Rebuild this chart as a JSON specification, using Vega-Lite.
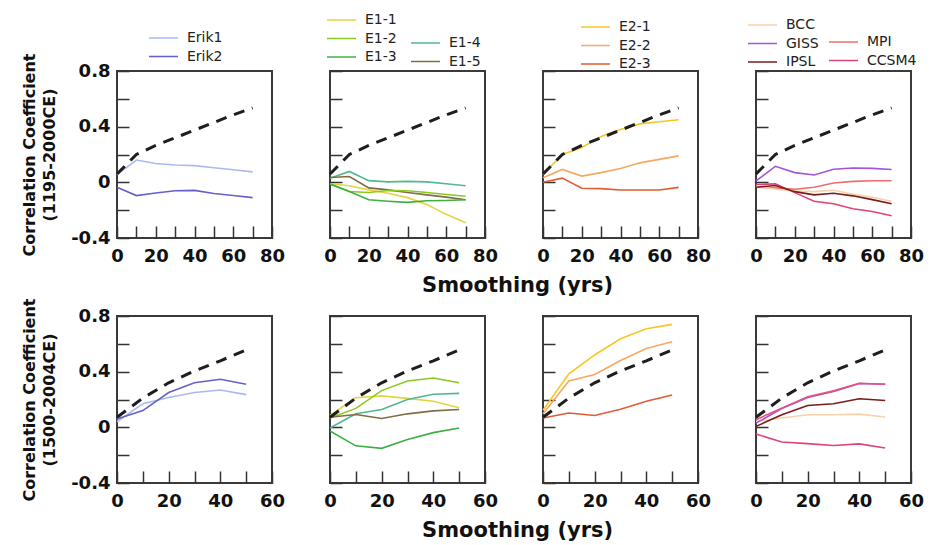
{
  "$schema": "https://vega.github.io/schema/vega-lite/v6.json",
  "background": "white",
  "padding": {"left": 20, "top": 12, "right": 5, "bottom": 3},
  "config": {
    "view": {"stroke": "#3a3a3a", "strokeWidth": 2},
    "axis": {"grid": false, "domain": false, "labelFlush": false, "tickSize": -12, "tickColor": "#333", "tickWidth": 1.5, "labelFont": "DejaVu Sans", "labelFontWeight": "bold", "labelFontSize": 18, "labelColor": "#111", "titleFont": "DejaVu Sans", "titleFontWeight": "bold", "titleFontSize": 16, "titleColor": "#111"},
    "axisX": {"labelPadding": 21},
    "axisY": {"labelPadding": 19, "titleLineHeight": 20, "titlePadding": 13},
    "legend": {"orient": "none", "symbolType": "stroke", "symbolSize": 841, "symbolStrokeWidth": 2, "clipHeight": 13, "labelFont": "DejaVu Sans", "labelFontSize": 14, "labelColor": "#222", "rowPadding": 3.5, "labelOffset": 8},
    "line": {"strokeWidth": 1.6},
    "title": {"font": "DejaVu Sans", "fontSize": 21, "fontWeight": "bold", "color": "#111"}
  },
  "datasets": {
    "dt": [{"x":0,"y":0.06},{"x":10,"y":0.2},{"x":20,"y":0.265},{"x":30,"y":0.32},{"x":40,"y":0.375},{"x":50,"y":0.43},{"x":60,"y":0.485},{"x":70,"y":0.535}],
    "db": [{"x":0,"y":0.072},{"x":10,"y":0.21},{"x":20,"y":0.32},{"x":30,"y":0.405},{"x":40,"y":0.478},{"x":50,"y":0.556}],
    "t1": [
      {"s":"Erik1","x":0,"y":0.055},{"s":"Erik1","x":10,"y":0.16},{"s":"Erik1","x":20,"y":0.135},{"s":"Erik1","x":30,"y":0.125},{"s":"Erik1","x":40,"y":0.12},{"s":"Erik1","x":50,"y":0.105},{"s":"Erik1","x":60,"y":0.09},{"s":"Erik1","x":70,"y":0.075},
      {"s":"Erik2","x":0,"y":-0.035},{"s":"Erik2","x":10,"y":-0.095},{"s":"Erik2","x":20,"y":-0.077},{"s":"Erik2","x":30,"y":-0.06},{"s":"Erik2","x":40,"y":-0.058},{"s":"Erik2","x":50,"y":-0.08},{"s":"Erik2","x":60,"y":-0.095},{"s":"Erik2","x":70,"y":-0.11}
    ],
    "t2": [
      {"s":"E1-1","x":0,"y":-0.01},{"s":"E1-1","x":10,"y":-0.024},{"s":"E1-1","x":20,"y":-0.054},{"s":"E1-1","x":30,"y":-0.078},{"s":"E1-1","x":40,"y":-0.11},{"s":"E1-1","x":50,"y":-0.16},{"s":"E1-1","x":60,"y":-0.23},{"s":"E1-1","x":70,"y":-0.29},
      {"s":"E1-2","x":0,"y":-0.012},{"s":"E1-2","x":10,"y":-0.066},{"s":"E1-2","x":20,"y":-0.073},{"s":"E1-2","x":30,"y":-0.059},{"s":"E1-2","x":40,"y":-0.061},{"s":"E1-2","x":50,"y":-0.073},{"s":"E1-2","x":60,"y":-0.087},{"s":"E1-2","x":70,"y":-0.1},
      {"s":"E1-3","x":0,"y":-0.012},{"s":"E1-3","x":10,"y":-0.066},{"s":"E1-3","x":20,"y":-0.125},{"s":"E1-3","x":30,"y":-0.136},{"s":"E1-3","x":40,"y":-0.144},{"s":"E1-3","x":50,"y":-0.132},{"s":"E1-3","x":60,"y":-0.13},{"s":"E1-3","x":70,"y":-0.125},
      {"s":"E1-4","x":0,"y":0.03},{"s":"E1-4","x":10,"y":0.078},{"s":"E1-4","x":20,"y":0.012},{"s":"E1-4","x":30,"y":0.003},{"s":"E1-4","x":40,"y":0.007},{"s":"E1-4","x":50,"y":0.003},{"s":"E1-4","x":60,"y":-0.01},{"s":"E1-4","x":70,"y":-0.024},
      {"s":"E1-5","x":0,"y":0.035},{"s":"E1-5","x":10,"y":0.042},{"s":"E1-5","x":20,"y":-0.04},{"s":"E1-5","x":30,"y":-0.054},{"s":"E1-5","x":40,"y":-0.073},{"s":"E1-5","x":50,"y":-0.09},{"s":"E1-5","x":60,"y":-0.106},{"s":"E1-5","x":70,"y":-0.125}
    ],
    "t3": [
      {"s":"E2-1","x":0,"y":0.057},{"s":"E2-1","x":10,"y":0.2},{"s":"E2-1","x":20,"y":0.25},{"s":"E2-1","x":30,"y":0.33},{"s":"E2-1","x":40,"y":0.38},{"s":"E2-1","x":50,"y":0.42},{"s":"E2-1","x":60,"y":0.435},{"s":"E2-1","x":70,"y":0.45},
      {"s":"E2-2","x":0,"y":0.033},{"s":"E2-2","x":10,"y":0.093},{"s":"E2-2","x":20,"y":0.045},{"s":"E2-2","x":30,"y":0.07},{"s":"E2-2","x":40,"y":0.1},{"s":"E2-2","x":50,"y":0.14},{"s":"E2-2","x":60,"y":0.165},{"s":"E2-2","x":70,"y":0.19},
      {"s":"E2-3","x":0,"y":0.0},{"s":"E2-3","x":10,"y":0.03},{"s":"E2-3","x":20,"y":-0.043},{"s":"E2-3","x":30,"y":-0.045},{"s":"E2-3","x":40,"y":-0.055},{"s":"E2-3","x":50,"y":-0.055},{"s":"E2-3","x":60,"y":-0.055},{"s":"E2-3","x":70,"y":-0.036}
    ],
    "t4": [
      {"s":"BCC","x":0,"y":-0.028},{"s":"BCC","x":10,"y":-0.05},{"s":"BCC","x":20,"y":-0.062},{"s":"BCC","x":30,"y":-0.067},{"s":"BCC","x":40,"y":-0.057},{"s":"BCC","x":50,"y":-0.085},{"s":"BCC","x":60,"y":-0.108},{"s":"BCC","x":70,"y":-0.136},
      {"s":"GISS","x":0,"y":0.01},{"s":"GISS","x":10,"y":0.115},{"s":"GISS","x":20,"y":0.07},{"s":"GISS","x":30,"y":0.053},{"s":"GISS","x":40,"y":0.094},{"s":"GISS","x":50,"y":0.103},{"s":"GISS","x":60,"y":0.1},{"s":"GISS","x":70,"y":0.092},
      {"s":"IPSL","x":0,"y":-0.035},{"s":"IPSL","x":10,"y":-0.023},{"s":"IPSL","x":20,"y":-0.067},{"s":"IPSL","x":30,"y":-0.09},{"s":"IPSL","x":40,"y":-0.078},{"s":"IPSL","x":50,"y":-0.097},{"s":"IPSL","x":60,"y":-0.124},{"s":"IPSL","x":70,"y":-0.154},
      {"s":"MPI","x":0,"y":-0.035},{"s":"MPI","x":10,"y":-0.04},{"s":"MPI","x":20,"y":-0.05},{"s":"MPI","x":30,"y":-0.035},{"s":"MPI","x":40,"y":-0.005},{"s":"MPI","x":50,"y":0.007},{"s":"MPI","x":60,"y":0.011},{"s":"MPI","x":70,"y":0.011},
      {"s":"CCSM4","x":0,"y":-0.016},{"s":"CCSM4","x":10,"y":-0.011},{"s":"CCSM4","x":20,"y":-0.074},{"s":"CCSM4","x":30,"y":-0.136},{"s":"CCSM4","x":40,"y":-0.154},{"s":"CCSM4","x":50,"y":-0.19},{"s":"CCSM4","x":60,"y":-0.21},{"s":"CCSM4","x":70,"y":-0.24}
    ],
    "b1": [
      {"s":"Erik1","x":0,"y":0.04},{"s":"Erik1","x":10,"y":0.17},{"s":"Erik1","x":20,"y":0.215},{"s":"Erik1","x":30,"y":0.25},{"s":"Erik1","x":40,"y":0.268},{"s":"Erik1","x":50,"y":0.235},
      {"s":"Erik2","x":0,"y":0.06},{"s":"Erik2","x":10,"y":0.12},{"s":"Erik2","x":20,"y":0.25},{"s":"Erik2","x":30,"y":0.32},{"s":"Erik2","x":40,"y":0.345},{"s":"Erik2","x":50,"y":0.31}
    ],
    "b2": [
      {"s":"E1-1","x":0,"y":0.085},{"s":"E1-1","x":10,"y":0.213},{"s":"E1-1","x":20,"y":0.226},{"s":"E1-1","x":30,"y":0.208},{"s":"E1-1","x":40,"y":0.187},{"s":"E1-1","x":50,"y":0.141},
      {"s":"E1-2","x":0,"y":0.067},{"s":"E1-2","x":10,"y":0.136},{"s":"E1-2","x":20,"y":0.264},{"s":"E1-2","x":30,"y":0.333},{"s":"E1-2","x":40,"y":0.354},{"s":"E1-2","x":50,"y":0.32},
      {"s":"E1-3","x":0,"y":-0.026},{"s":"E1-3","x":10,"y":-0.133},{"s":"E1-3","x":20,"y":-0.151},{"s":"E1-3","x":30,"y":-0.087},{"s":"E1-3","x":40,"y":-0.038},{"s":"E1-3","x":50,"y":-0.005},
      {"s":"E1-4","x":0,"y":-0.005},{"s":"E1-4","x":10,"y":0.097},{"s":"E1-4","x":20,"y":0.128},{"s":"E1-4","x":30,"y":0.2},{"s":"E1-4","x":40,"y":0.238},{"s":"E1-4","x":50,"y":0.244},
      {"s":"E1-5","x":0,"y":0.072},{"s":"E1-5","x":10,"y":0.092},{"s":"E1-5","x":20,"y":0.064},{"s":"E1-5","x":30,"y":0.097},{"s":"E1-5","x":40,"y":0.118},{"s":"E1-5","x":50,"y":0.128}
    ],
    "b3": [
      {"s":"E2-1","x":0,"y":0.123},{"s":"E2-1","x":10,"y":0.385},{"s":"E2-1","x":20,"y":0.52},{"s":"E2-1","x":30,"y":0.636},{"s":"E2-1","x":40,"y":0.708},{"s":"E2-1","x":50,"y":0.74},
      {"s":"E2-2","x":0,"y":0.097},{"s":"E2-2","x":10,"y":0.333},{"s":"E2-2","x":20,"y":0.38},{"s":"E2-2","x":30,"y":0.48},{"s":"E2-2","x":40,"y":0.567},{"s":"E2-2","x":50,"y":0.615},
      {"s":"E2-3","x":0,"y":0.067},{"s":"E2-3","x":10,"y":0.103},{"s":"E2-3","x":20,"y":0.085},{"s":"E2-3","x":30,"y":0.13},{"s":"E2-3","x":40,"y":0.187},{"s":"E2-3","x":50,"y":0.233}
    ],
    "b4": [
      {"s":"BCC","x":0,"y":0.043},{"s":"BCC","x":10,"y":0.067},{"s":"BCC","x":20,"y":0.09},{"s":"BCC","x":30,"y":0.09},{"s":"BCC","x":40,"y":0.095},{"s":"BCC","x":50,"y":0.074},
      {"s":"GISS","x":0,"y":0.03},{"s":"GISS","x":10,"y":0.135},{"s":"GISS","x":20,"y":0.215},{"s":"GISS","x":30,"y":0.258},{"s":"GISS","x":40,"y":0.315},{"s":"GISS","x":50,"y":0.31},
      {"s":"IPSL","x":0,"y":0.007},{"s":"IPSL","x":10,"y":0.09},{"s":"IPSL","x":20,"y":0.157},{"s":"IPSL","x":30,"y":0.169},{"s":"IPSL","x":40,"y":0.205},{"s":"IPSL","x":50,"y":0.193},
      {"s":"MPI","x":0,"y":0.055},{"s":"MPI","x":10,"y":0.138},{"s":"MPI","x":20,"y":0.22},{"s":"MPI","x":30,"y":0.262},{"s":"MPI","x":40,"y":0.317},{"s":"MPI","x":50,"y":0.31},
      {"s":"CCSM4","x":0,"y":-0.048},{"s":"CCSM4","x":10,"y":-0.105},{"s":"CCSM4","x":20,"y":-0.117},{"s":"CCSM4","x":30,"y":-0.131},{"s":"CCSM4","x":40,"y":-0.119},{"s":"CCSM4","x":50,"y":-0.148}
    ]
  },
  "bounds": "full",
  "spacing": 0,
  "resolve": {"scale": {"color": "independent"}, "legend": {"color": "independent"}},
  "vconcat": [
    {
      "bounds": "flush",
      "spacing": 58,
      "resolve": {"scale": {"color": "independent"}, "legend": {"color": "independent"}},
      "title": {"text": "Smoothing (yrs)", "orient": "bottom", "anchor": "middle", "offset": 9, "dx": 45},
      "hconcat": [
        {
          "width": 155, "height": 167,
          "encoding": {
            "x": {"field": "x", "type": "quantitative", "scale": {"domain": [0, 80], "nice": false}, "axis": {"values": [0,10,20,30,40,50,60,70,80], "labelExpr": "datum.value % 20 == 0 ? datum.label : ''", "title": null}},
            "y": {"field": "y", "type": "quantitative", "scale": {"domain": [-0.4, 0.8], "nice": false}, "axis": {"values": [-0.4,-0.2,0,0.2,0.4,0.6,0.8], "labelExpr": "datum.value == 0.8 ? '0.8' : datum.value == 0.4 ? '0.4' : datum.value == 0 ? '0' : datum.value == -0.4 ? '-0.4' : ''", "title": ["Correlation Coefficient", "(1195-2000CE)"]}}
          },
          "resolve": {"scale": {"color": "independent"}, "legend": {"color": "independent"}},
          "layer": [
            {"data": {"name": "t1"}, "mark": {"type": "line"}, "encoding": {"color": {"field": "s", "type": "nominal", "scale": {"domain": ["Erik1", "Erik2"], "range": ["#a9baf0", "#6660cc"]}, "legend": {"title": null, "legendX": 31, "legendY": -39.5}}}},
            {"data": {"name": "dt"}, "mark": {"type": "line", "color": "#1e1e1e", "strokeWidth": 3, "strokeDash": [11, 8]}, "encoding": {}}
          ]
        },
        {
          "width": 155, "height": 167,
          "encoding": {
            "x": {"field": "x", "type": "quantitative", "scale": {"domain": [0, 80], "nice": false}, "axis": {"values": [0,10,20,30,40,50,60,70,80], "labelExpr": "datum.value % 20 == 0 ? datum.label : ''", "title": null}},
            "y": {"field": "y", "type": "quantitative", "scale": {"domain": [-0.4, 0.8], "nice": false}, "axis": {"values": [-0.4,-0.2,0,0.2,0.4,0.6,0.8], "labels": false, "title": null}}
          },
          "resolve": {"scale": {"color": "independent"}, "legend": {"color": "independent"}},
          "layer": [
            {"data": {"name": "t2"}, "transform": [{"filter": {"field": "s", "oneOf": ["E1-4", "E1-5"]}}], "mark": {"type": "line"}, "encoding": {"color": {"field": "s", "type": "nominal", "scale": {"domain": ["E1-4", "E1-5"], "range": ["#52b98c", "#7f6d45"]}, "legend": {"title": null, "legendX": 80, "legendY": -34.5}}}},
            {"data": {"name": "t2"}, "transform": [{"filter": {"field": "s", "oneOf": ["E1-1", "E1-2", "E1-3"]}}], "mark": {"type": "line"}, "encoding": {"color": {"field": "s", "type": "nominal", "scale": {"domain": ["E1-1", "E1-2", "E1-3"], "range": ["#e4d443", "#8cc823", "#3cb043"]}, "legend": {"title": null, "legendX": -4, "legendY": -57.5}}}},
            {"data": {"name": "dt"}, "mark": {"type": "line", "color": "#1e1e1e", "strokeWidth": 3, "strokeDash": [11, 8]}, "encoding": {}}
          ]
        },
        {
          "width": 155, "height": 167,
          "encoding": {
            "x": {"field": "x", "type": "quantitative", "scale": {"domain": [0, 80], "nice": false}, "axis": {"values": [0,10,20,30,40,50,60,70,80], "labelExpr": "datum.value % 20 == 0 ? datum.label : ''", "title": null}},
            "y": {"field": "y", "type": "quantitative", "scale": {"domain": [-0.4, 0.8], "nice": false}, "axis": {"values": [-0.4,-0.2,0,0.2,0.4,0.6,0.8], "labels": false, "title": null}}
          },
          "resolve": {"scale": {"color": "independent"}, "legend": {"color": "independent"}},
          "layer": [
            {"data": {"name": "t3"}, "mark": {"type": "line"}, "encoding": {"color": {"field": "s", "type": "nominal", "scale": {"domain": ["E2-1", "E2-2", "E2-3"], "range": ["#f7c623", "#f7a862", "#e05c32"]}, "legend": {"title": null, "legendX": 37, "legendY": -50.5}}}},
            {"data": {"name": "dt"}, "mark": {"type": "line", "color": "#1e1e1e", "strokeWidth": 3, "strokeDash": [11, 8]}, "encoding": {}}
          ]
        },
        {
          "width": 155, "height": 167,
          "encoding": {
            "x": {"field": "x", "type": "quantitative", "scale": {"domain": [0, 80], "nice": false}, "axis": {"values": [0,10,20,30,40,50,60,70,80], "labelExpr": "datum.value % 20 == 0 ? datum.label : ''", "title": null}},
            "y": {"field": "y", "type": "quantitative", "scale": {"domain": [-0.4, 0.8], "nice": false}, "axis": {"values": [-0.4,-0.2,0,0.2,0.4,0.6,0.8], "labels": false, "title": null}}
          },
          "resolve": {"scale": {"color": "independent"}, "legend": {"color": "independent"}},
          "layer": [
            {"data": {"name": "t4"}, "transform": [{"filter": {"field": "s", "oneOf": ["MPI", "CCSM4"]}}], "mark": {"type": "line"}, "encoding": {"color": {"field": "s", "type": "nominal", "scale": {"domain": ["MPI", "CCSM4"], "range": ["#f06c6c", "#df4379"]}, "legend": {"title": null, "legendX": 72, "legendY": -35.5}}}},
            {"data": {"name": "t4"}, "transform": [{"filter": {"field": "s", "oneOf": ["BCC", "GISS", "IPSL"]}}], "mark": {"type": "line"}, "encoding": {"color": {"field": "s", "type": "nominal", "scale": {"domain": ["BCC", "GISS", "IPSL"], "range": ["#f8d2a8", "#a257d8", "#7b1c1c"]}, "legend": {"title": null, "legendX": -9, "legendY": -52.5}}}},
            {"data": {"name": "dt"}, "mark": {"type": "line", "color": "#1e1e1e", "strokeWidth": 3, "strokeDash": [11, 8]}, "encoding": {}}
          ]
        }
      ]
    },
    {
      "bounds": "flush",
      "spacing": 58,
      "resolve": {"scale": {"color": "independent"}, "legend": {"color": "independent"}},
      "title": {"text": "Smoothing (yrs)", "orient": "bottom", "anchor": "middle", "offset": 9, "dx": 45},
      "hconcat": [
        {
          "width": 155, "height": 167,
          "encoding": {
            "x": {"field": "x", "type": "quantitative", "scale": {"domain": [0, 60], "nice": false}, "axis": {"values": [0,10,20,30,40,50,60], "labelExpr": "datum.value % 20 == 0 ? datum.label : ''", "title": null}},
            "y": {"field": "y", "type": "quantitative", "scale": {"domain": [-0.4, 0.8], "nice": false}, "axis": {"values": [-0.4,-0.2,0,0.2,0.4,0.6,0.8], "labelExpr": "datum.value == 0.8 ? '0.8' : datum.value == 0.4 ? '0.4' : datum.value == 0 ? '0' : datum.value == -0.4 ? '-0.4' : ''", "title": ["Correlation Coefficient", "(1500-2004CE)"]}}
          },
          "layer": [
            {"data": {"name": "b1"}, "mark": {"type": "line"}, "encoding": {"color": {"field": "s", "type": "nominal", "scale": {"domain": ["Erik1", "Erik2"], "range": ["#a9baf0", "#6660cc"]}, "legend": null}}},
            {"data": {"name": "db"}, "mark": {"type": "line", "color": "#1e1e1e", "strokeWidth": 3, "strokeDash": [11, 8]}, "encoding": {}}
          ]
        },
        {
          "width": 155, "height": 167,
          "encoding": {
            "x": {"field": "x", "type": "quantitative", "scale": {"domain": [0, 60], "nice": false}, "axis": {"values": [0,10,20,30,40,50,60], "labelExpr": "datum.value % 20 == 0 ? datum.label : ''", "title": null}},
            "y": {"field": "y", "type": "quantitative", "scale": {"domain": [-0.4, 0.8], "nice": false}, "axis": {"values": [-0.4,-0.2,0,0.2,0.4,0.6,0.8], "labels": false, "title": null}}
          },
          "layer": [
            {"data": {"name": "b2"}, "mark": {"type": "line"}, "encoding": {"color": {"field": "s", "type": "nominal", "scale": {"domain": ["E1-1", "E1-2", "E1-3", "E1-4", "E1-5"], "range": ["#e4d443", "#8cc823", "#3cb043", "#52b98c", "#7f6d45"]}, "legend": null}}},
            {"data": {"name": "db"}, "mark": {"type": "line", "color": "#1e1e1e", "strokeWidth": 3, "strokeDash": [11, 8]}, "encoding": {}}
          ]
        },
        {
          "width": 155, "height": 167,
          "encoding": {
            "x": {"field": "x", "type": "quantitative", "scale": {"domain": [0, 60], "nice": false}, "axis": {"values": [0,10,20,30,40,50,60], "labelExpr": "datum.value % 20 == 0 ? datum.label : ''", "title": null}},
            "y": {"field": "y", "type": "quantitative", "scale": {"domain": [-0.4, 0.8], "nice": false}, "axis": {"values": [-0.4,-0.2,0,0.2,0.4,0.6,0.8], "labels": false, "title": null}}
          },
          "layer": [
            {"data": {"name": "b3"}, "mark": {"type": "line"}, "encoding": {"color": {"field": "s", "type": "nominal", "scale": {"domain": ["E2-1", "E2-2", "E2-3"], "range": ["#f7c623", "#f7a862", "#e05c32"]}, "legend": null}}},
            {"data": {"name": "db"}, "mark": {"type": "line", "color": "#1e1e1e", "strokeWidth": 3, "strokeDash": [11, 8]}, "encoding": {}}
          ]
        },
        {
          "width": 155, "height": 167,
          "encoding": {
            "x": {"field": "x", "type": "quantitative", "scale": {"domain": [0, 60], "nice": false}, "axis": {"values": [0,10,20,30,40,50,60], "labelExpr": "datum.value % 20 == 0 ? datum.label : ''", "title": null}},
            "y": {"field": "y", "type": "quantitative", "scale": {"domain": [-0.4, 0.8], "nice": false}, "axis": {"values": [-0.4,-0.2,0,0.2,0.4,0.6,0.8], "labels": false, "title": null}}
          },
          "layer": [
            {"data": {"name": "b4"}, "mark": {"type": "line"}, "encoding": {"color": {"field": "s", "type": "nominal", "scale": {"domain": ["BCC", "GISS", "IPSL", "MPI", "CCSM4"], "range": ["#f8d2a8", "#a257d8", "#7b1c1c", "#e8507a", "#df4379"]}, "legend": null}}},
            {"data": {"name": "db"}, "mark": {"type": "line", "color": "#1e1e1e", "strokeWidth": 3, "strokeDash": [11, 8]}, "encoding": {}}
          ]
        }
      ]
    }
  ]
}
